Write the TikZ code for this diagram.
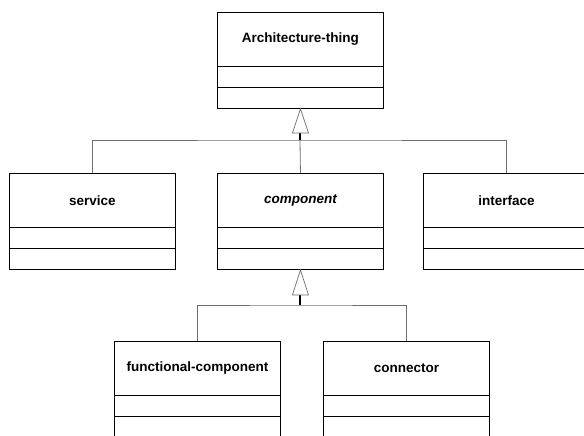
\documentclass[tikz,border=0pt]{standalone}
\usepackage{fontspec}
\setmainfont{Liberation Sans}
\definecolor{conngray}{RGB}{110,110,110}
\tikzset{
  classhead/.style={draw=black, line width=0.9pt, minimum width=166pt, minimum height=54pt,
    inner sep=0pt, font=\fontsize{13.5}{16}\selectfont\bfseries},
  classline/.style={draw=black, line width=0.9pt},
  conn/.style={draw=conngray, line width=0.8pt},
  stub/.style={draw=black, line width=2pt},
  gentri/.style={draw=conngray, line width=0.7pt, fill=white}
}
\newcommand{\umlclass}[4]{%
  \node[classhead, anchor=north west] (#1) at (#2,#3) {#4};
  \draw[classline] (#1.south west) rectangle ++(166,21);
  \draw[classline] ([yshift=-21pt]#1.south west) rectangle ++(166,21);
  \coordinate (#1-b) at ([yshift=-42pt]#1.south);
}
\begin{document}
\begin{tikzpicture}[x=1pt,y=-1pt]
\useasboundingbox (0,0) rectangle (584,436);
\clip (0,0) rectangle (584,436);
\umlclass{thing}{217}{12}{Architecture-thing}
\umlclass{service}{9}{173}{service}
\umlclass{component}{217}{173}{\itshape component}
\umlclass{interface}{423}{173}{interface}
\umlclass{functional}{114}{341}{functional-component}
\umlclass{connector}{323}{341}{connector}
% upper generalization
\coordinate (bus1) at (300,140);
\draw[conn] (service.north) |- (bus1) -| (interface.north);
\draw[conn] (bus1) -- (component.north);
\draw[stub] (bus1) -- ++(0,-9);
\draw[gentri] (thing-b) -- ++(-8,24) -- ++(16,0) -- cycle;
% lower generalization
\coordinate (bus2) at (300,305);
\draw[conn] (functional.north) |- (bus2) -| (connector.north);
\draw[stub] (bus2) -- ++(0,-11);
\draw[gentri] (component-b) -- ++(-8,25) -- ++(16,0) -- cycle;
\end{tikzpicture}
\end{document}
